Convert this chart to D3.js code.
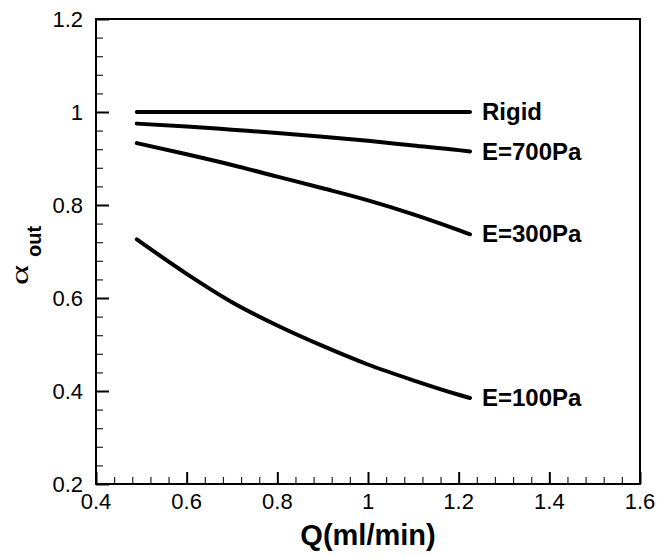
<!DOCTYPE html>
<html>
<head>
<meta charset="utf-8">
<script src="https://cdn.jsdelivr.net/npm/d3@7/dist/d3.min.js"></script>
<style>
  html, body { margin: 0; padding: 0; background: #fff; }
  svg { display: block; }
</style>
</head>
<body>
<svg id="chart" width="661" height="558"></svg>
<script>
// Flow rate Q (ml/min) sampled along each curve
const flowRates = [0.49, 0.6, 0.7, 0.8, 0.9, 1.0, 1.1, 1.2, 1.225];

// Outlet fraction alpha_out for each wall stiffness
const rigid  = [1.0, 1.0, 1.0, 1.0, 1.0, 1.0, 1.0, 1.0, 1.0];
const e700   = [0.975, 0.969, 0.962, 0.955, 0.947, 0.938, 0.928, 0.918, 0.915];
const e300   = [0.933, 0.909, 0.886, 0.861, 0.836, 0.810, 0.780, 0.746, 0.737];
const e100   = [0.726, 0.652, 0.591, 0.541, 0.497, 0.457, 0.423, 0.392, 0.385];

const seriesNames = ["Rigid", "E=700Pa", "E=300Pa", "E=100Pa"];
const seriesValues = [rigid, e700, e300, e100];

const xMajorTicks = [0.4, 0.6, 0.8, 1.0, 1.2, 1.4, 1.6];
const yMajorTicks = [0.2, 0.4, 0.6, 0.8, 1.0, 1.2];

const svg = d3.select("#chart");
const plotLeft = 96, plotRight = 640, plotTop = 19, plotBottom = 484;

const x = d3.scaleLinear().domain([0.4, 1.6]).range([plotLeft, plotRight]);
const y = d3.scaleLinear().domain([0.2, 1.2]).range([plotBottom, plotTop]);

const fmt = v => (Math.abs(v - Math.round(v)) < 1e-9 ? String(Math.round(v)) : v.toFixed(1));

// minor ticks every 0.04
const xMinor = d3.range(0, 31).map(i => 0.4 + i * 0.04).filter(v => !xMajorTicks.some(m => Math.abs(m - v) < 1e-6));
const yMinor = d3.range(0, 26).map(i => 0.2 + i * 0.04).filter(v => !yMajorTicks.some(m => Math.abs(m - v) < 1e-6));

const sansFont = "'Liberation Sans', Arial, sans-serif";

// bottom axis (inward ticks)
const xAxisMajor = d3.axisBottom(x).tickValues(xMajorTicks).tickSize(-12).tickFormat("");
const xAxisMinor = d3.axisBottom(x).tickValues(xMinor).tickSize(-7).tickFormat("");
const gxMinor = svg.append("g").attr("transform", `translate(0,${plotBottom})`).call(xAxisMinor);
gxMinor.select(".domain").remove();
gxMinor.selectAll("line").attr("stroke", "#222").attr("stroke-width", 1.2);
const gx = svg.append("g").attr("transform", `translate(0,${plotBottom})`).call(xAxisMajor);
gx.select(".domain").remove();
gx.selectAll("line").attr("stroke", "#000").attr("stroke-width", 2);

svg.append("g").selectAll("text").data(xMajorTicks).join("text")
  .attr("x", d => x(d)).attr("y", plotBottom + 25)
  .attr("text-anchor", "middle")
  .attr("font-family", sansFont).attr("font-size", 22)
  .text(fmt);

// left axis (inward ticks)
const yAxisMajor = d3.axisLeft(y).tickValues(yMajorTicks).tickSize(-13).tickFormat("");
const yAxisMinor = d3.axisLeft(y).tickValues(yMinor).tickSize(-7).tickFormat("");
const gyMinor = svg.append("g").attr("transform", `translate(${plotLeft},0)`).call(yAxisMinor);
gyMinor.select(".domain").remove();
gyMinor.selectAll("line").attr("stroke", "#222").attr("stroke-width", 1.2);
const gy = svg.append("g").attr("transform", `translate(${plotLeft},0)`).call(yAxisMajor);
gy.select(".domain").remove();
gy.selectAll("line").attr("stroke", "#000").attr("stroke-width", 2);

svg.append("g").selectAll("text").data(yMajorTicks).join("text")
  .attr("x", plotLeft - 13).attr("y", d => y(d) + 8)
  .attr("text-anchor", "end")
  .attr("font-family", sansFont).attr("font-size", 22)
  .text(fmt);

// plot frame
svg.append("rect")
  .attr("x", plotLeft).attr("y", plotTop)
  .attr("width", plotRight - plotLeft).attr("height", plotBottom - plotTop)
  .attr("fill", "none").attr("stroke", "#000").attr("stroke-width", 2);

// curves
const line = d3.line()
  .x((d, i) => x(flowRates[i]))
  .y(d => y(d))
  .curve(d3.curveMonotoneX);

svg.append("g").selectAll("path").data(seriesValues).join("path")
  .attr("d", line)
  .attr("fill", "none")
  .attr("stroke", "#000")
  .attr("stroke-width", 4)
  .attr("stroke-linecap", "round")
  .attr("stroke-linejoin", "round");

// labels at the end of each curve
const lastQ = flowRates[flowRates.length - 1];
svg.append("g").selectAll("text").data(seriesNames).join("text")
  .attr("x", x(lastQ) + 12)
  .attr("y", (d, i) => y(seriesValues[i][seriesValues[i].length - 1]) + 8)
  .attr("font-family", sansFont).attr("font-size", 24).attr("font-weight", "bold")
  .text(d => d);

// axis titles
svg.append("text")
  .attr("x", (plotLeft + plotRight) / 2).attr("y", 545)
  .attr("text-anchor", "middle")
  .attr("font-family", sansFont).attr("font-size", 29).attr("font-weight", "bold")
  .text("Q(ml/min)");

const yTitle = svg.append("g").attr("transform", "rotate(-90)");
yTitle.append("text")
  .attr("x", -285).attr("y", 28)
  .attr("font-family", "'Liberation Serif', 'DejaVu Serif', serif").attr("font-size", 26)
  .attr("textLength", 20).attr("lengthAdjust", "spacingAndGlyphs")
  .text("α");
yTitle.append("text")
  .attr("x", -257).attr("y", 41)
  .attr("font-family", sansFont).attr("font-size", 20).attr("font-weight", "bold")
  .text("out");
</script>
</body>
</html>
